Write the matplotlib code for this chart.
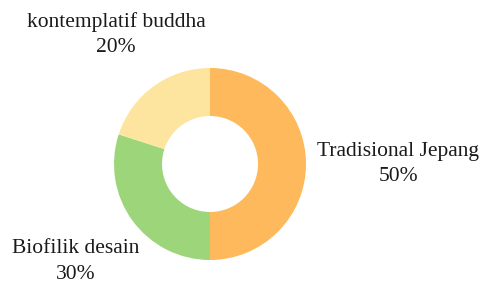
import numpy as np
import matplotlib
matplotlib.use("Agg")
import matplotlib.pyplot as plt

categories = ["Tradisional Jepang", "Biofilik desain", "kontemplatif buddha"]
values = [50, 30, 20]
colors = ["#FDB95B", "#9CD57A", "#FDE59F"]

W, H = 483, 284
fig = plt.figure(figsize=(W / 100, H / 100), dpi=100)
ax = fig.add_axes([0, 0, 1, 1])

cx, cy, r = 210, 284 - 164, 96
wedges, _ = ax.pie(values, colors=colors, startangle=90, counterclock=False,
                   center=(cx, cy), radius=r, frame=True,
                   wedgeprops=dict(width=r * 0.5, linewidth=0))
ax.set_xlim(0, W)
ax.set_ylim(0, H)
ax.set_aspect("equal")
ax.axis("off")

dists = [188, 166, 160]
total = sum(values)
for w, cat, v, d in zip(wedges, categories, values, dists):
    ang = np.deg2rad((w.theta1 + w.theta2) / 2)
    x = cx + d * np.cos(ang)
    y = cy + d * np.sin(ang)
    ax.text(x, y, f"{cat}\n{round(v / total * 100)}%", ha="center", va="center",
            fontsize=15.5, family="Liberation Serif", color="#1a1a1a", linespacing=1.45)

fig.savefig("out.png", dpi=100)
